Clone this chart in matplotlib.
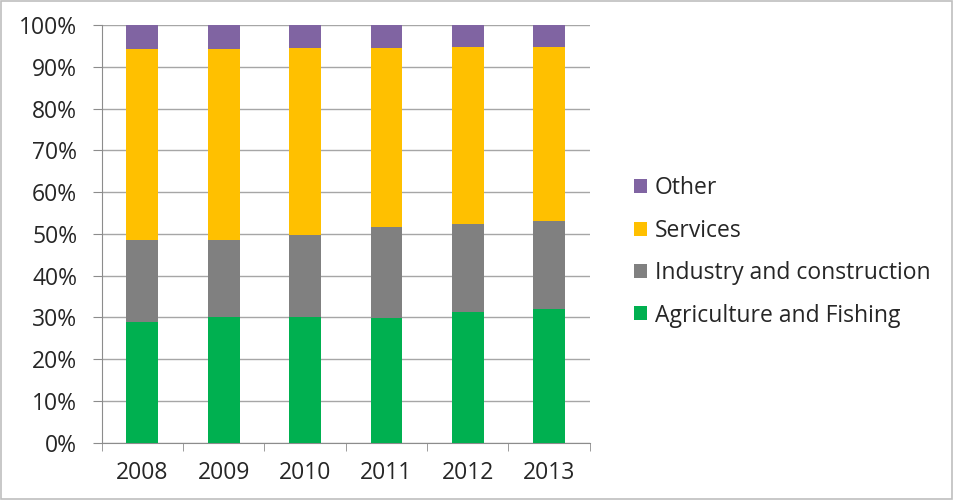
import matplotlib.pyplot as plt
from matplotlib.patches import Patch, Rectangle
from matplotlib.ticker import PercentFormatter

years = ['2008', '2009', '2010', '2011', '2012', '2013']
agriculture = [29.0, 30.2, 30.2, 29.8, 31.4, 31.9]
industry = [19.5, 18.3, 19.6, 21.8, 21.0, 21.2]
services = [45.7, 45.7, 44.6, 42.9, 42.3, 41.6]
other = [5.8, 5.8, 5.6, 5.5, 5.3, 5.3]

series = [
    ('Agriculture and Fishing', agriculture, '#00B050'),
    ('Industry and construction', industry, '#808080'),
    ('Services', services, '#FFC000'),
    ('Other', other, '#8064A2'),
]

plt.rcParams['font.family'] = ['Open Sans', 'DejaVu Sans']

fig = plt.figure(figsize=(9.59, 5.0), dpi=100)
ax = fig.add_axes([0.106, 0.1146, 0.509, 0.8354])

x = list(range(len(years)))
bottom = [0.0] * len(years)
for name, vals, color in series:
    ax.bar(x, vals, width=0.39, bottom=bottom, color=color, zorder=3)
    bottom = [b + v for b, v in zip(bottom, vals)]

ax.set_xlim(-0.5, len(years) - 0.5)
ax.set_ylim(0, 100)
ax.set_yticks(range(0, 101, 10))
ax.yaxis.set_major_formatter(PercentFormatter(decimals=0))
ax.grid(axis='y', color='#A6A6A6', linewidth=1, zorder=0)

ax.set_xticks(x)
ax.set_xticklabels(years)
ax.set_xticks([i - 0.5 for i in range(len(years) + 1)], minor=True)
ax.tick_params(axis='x', which='major', length=0, pad=13, labelsize=16.5, labelcolor='#262626')
ax.tick_params(axis='x', which='minor', length=6, color='#8C8C8C')
ax.tick_params(axis='y', length=6.5, color='#8C8C8C', labelsize=16.5, labelcolor='#262626', pad=11)

for s in ['top', 'right']:
    ax.spines[s].set_visible(False)
for s in ['left', 'bottom']:
    ax.spines[s].set_color('#8C8C8C')

handles = [Patch(facecolor=c, label=n) for n, _, c in reversed(series)]
fig.legend(handles=handles, loc='center left', bbox_to_anchor=(0.640, 0.496),
           frameon=False, fontsize=16.5, handlelength=0.55, handleheight=0.55,
           handletextpad=0.35, labelspacing=0.8, labelcolor='#262626')

fig.patches.append(Rectangle((0.001, 0.002), 0.992, 0.996, transform=fig.transFigure,
                             fill=False, edgecolor='#BFBFBF', linewidth=1.2))

fig.savefig('out.png', dpi=100)
